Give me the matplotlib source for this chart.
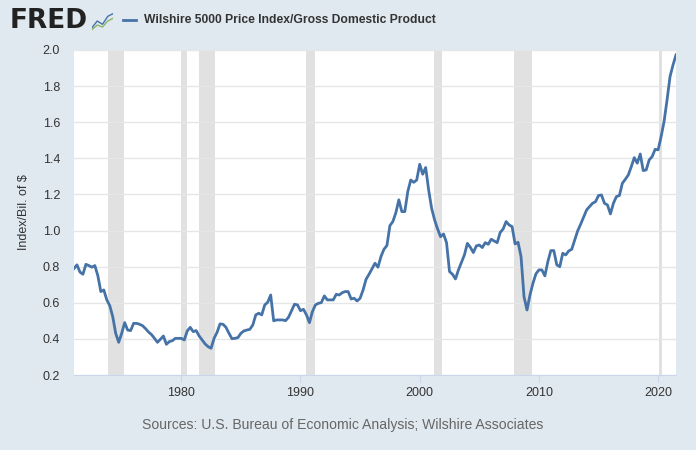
import numpy as np
import matplotlib
matplotlib.use("Agg")
import matplotlib.pyplot as plt

plt.rcParams["font.family"] = ["Liberation Sans", "DejaVu Sans"]

# quarterly values, 1971Q1 .. 2021Q3
start_year = 1971
ratio = [
    0.79, 0.81, 0.77, 0.758,
    0.813, 0.806, 0.797, 0.806,
    0.75, 0.662, 0.671, 0.616,
    0.584, 0.523, 0.43, 0.381,
    0.431, 0.49, 0.449, 0.446,
    0.486, 0.486, 0.481, 0.473,
    0.457, 0.438, 0.424, 0.403,
    0.381, 0.398, 0.416, 0.37,
    0.385, 0.39, 0.403, 0.403,
    0.403, 0.394, 0.444, 0.464,
    0.44, 0.446, 0.416, 0.394,
    0.372, 0.357, 0.348, 0.403,
    0.436, 0.483, 0.481, 0.464,
    0.431, 0.401, 0.403, 0.407,
    0.431, 0.444, 0.449, 0.453,
    0.477, 0.533, 0.542, 0.533,
    0.588, 0.603, 0.643, 0.50,
    0.505, 0.505, 0.505, 0.501,
    0.52, 0.556, 0.592, 0.588,
    0.556, 0.564, 0.533, 0.49,
    0.551, 0.588, 0.597, 0.601,
    0.638, 0.616, 0.616, 0.616,
    0.647, 0.643, 0.656, 0.662,
    0.662, 0.621, 0.625, 0.61,
    0.625, 0.671, 0.73, 0.758,
    0.789, 0.819, 0.797, 0.856,
    0.896, 0.917, 1.027, 1.05,
    1.099, 1.17, 1.105, 1.105,
    1.216, 1.28, 1.267, 1.28,
    1.367, 1.312, 1.349, 1.225,
    1.123, 1.059, 1.009, 0.966,
    0.981, 0.933, 0.773, 0.758,
    0.732, 0.782, 0.824, 0.865,
    0.929, 0.907, 0.878, 0.915,
    0.92, 0.906, 0.933, 0.924,
    0.952, 0.942, 0.933, 0.989,
    1.009, 1.05, 1.031, 1.022,
    0.926, 0.935, 0.856, 0.634,
    0.56, 0.643, 0.708, 0.76,
    0.782, 0.782, 0.749, 0.828,
    0.889, 0.889, 0.81, 0.80,
    0.874, 0.865, 0.887, 0.896,
    0.948, 0.998, 1.035, 1.074,
    1.114, 1.133, 1.151, 1.16,
    1.194, 1.197, 1.151, 1.142,
    1.092, 1.151, 1.188, 1.194,
    1.262, 1.284, 1.308, 1.354,
    1.404, 1.373, 1.424, 1.332,
    1.336, 1.391, 1.41, 1.45,
    1.447, 1.52, 1.604, 1.724,
    1.853, 1.917, 1.973,
]
dates = start_year + np.arange(len(ratio)) / 4.0

recessions = [(1973.87, 1975.2), (1980.0, 1980.5), (1981.5, 1982.87),
              (1990.5, 1991.2), (2001.2, 2001.87), (2007.92, 2009.45),
              (2020.08, 2020.3)]

x_ticks = [1980, 1990, 2000, 2010, 2020]
y_ticks = [0.2, 0.4, 0.6, 0.8, 1.0, 1.2, 1.4, 1.6, 1.8, 2.0]

bg = "#e1e9f0"
line_col = "#4572a7"

fig = plt.figure(figsize=(6.96, 4.5), dpi=100, facecolor=bg)
ax = fig.add_axes([74/696, 1-375/450, 602/696, 325/450])
ax.set_facecolor("white")

for a, b in recessions:
    ax.axvspan(a, b, color="#e1e1e1", lw=0, zorder=1)

ax.plot(dates, ratio, color=line_col, lw=2, zorder=3)

ax.set_xlim(dates[0], dates[-1])
ax.set_ylim(0.2, 2.0)
ax.set_xticks(x_ticks)
ax.set_yticks(y_ticks)
ax.set_yticklabels(["%.1f" % v for v in y_ticks])
ax.grid(axis="y", color="#e6e6e6", lw=1, zorder=2)
ax.grid(axis="x", visible=False)
for s in ["top", "right", "left"]:
    ax.spines[s].set_visible(False)
ax.spines["bottom"].set_color("#ccd6eb")
ax.tick_params(axis="y", length=0, pad=10, labelsize=9, labelcolor="#333333")
ax.tick_params(axis="x", length=5, color="#ccd6eb", pad=4, labelsize=9,
               labelcolor="#333333")
ax.set_ylabel("Index/Bil. of $", fontsize=9, color="#333333", labelpad=9)

# header
fig.text(10/696, 1-21/450, "FRED", fontsize=19, fontweight="bold",
         family="DejaVu Sans", color="#222222", va="center", ha="left")
icon = fig.add_axes([92/696, 1-31/450, 21/696, 20/450])
icon.set_facecolor("#d8dfe6")
icon.plot([0, 1, 2, 3, 4], [0.5, 1.5, 1.0, 2.2, 2.6], color="#4572a7", lw=1)
icon.plot([0, 1, 2, 3, 4], [0.2, 0.9, 0.6, 1.5, 1.9], color="#8cb369", lw=1)
icon.set_xlim(0, 4)
icon.set_ylim(0, 3)
icon.axis("off")
fig.lines.append(plt.Line2D([123/696, 136/696], [1-20/450, 1-20/450],
                            transform=fig.transFigure, color=line_col, lw=2))
fig.text(144/696, 1-20/450, "Wilshire 5000 Price Index/Gross Domestic Product",
         fontsize=8.7, fontweight="bold", color="#333333", va="center", ha="left")

fig.text(343/696, 1-425/450,
         "Sources: U.S. Bureau of Economic Analysis; Wilshire Associates",
         fontsize=10.1, color="#666666", ha="center", va="center")

fig.savefig("out.png", dpi=100, facecolor=bg)
